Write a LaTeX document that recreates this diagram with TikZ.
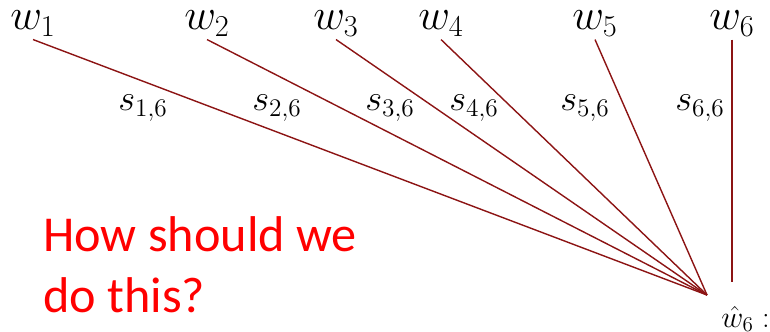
\documentclass[tikz,border=0pt]{standalone}
\usepackage{amsmath}
\usepackage{fontspec}
\newfontfamily\notefont{Carlito}
\usetikzlibrary{positioning}
\definecolor{edgered}{RGB}{140,20,20}
\definecolor{notered}{RGB}{255,0,0}
\tikzset{
  wlabel/.style={inner sep=1.5pt, anchor=base, font=\fontsize{24}{28}\selectfont},
  slabel/.style={inner sep=0pt, anchor=base, font=\fontsize{20}{24}\selectfont},
  hatlabel/.style={inner sep=0pt, anchor=base west, font=\fontsize{17}{21}\selectfont},
  simedge/.style={edgered, line width=0.8pt},
  notetext/.style={inner sep=0pt, anchor=north west, align=left, text=notered,
                   font=\notefont\fontsize{28.6}{34.7}\selectfont},
}

\begin{document}
\begin{tikzpicture}[x=0.02cm, y=-0.02cm]
  \useasboundingbox (0,0) rectangle (770,331);

  % Gewichte
  \node[wlabel] (w1) at (33, 30) {$w_1$};
  \node[wlabel] (w2) at (207, 30) {$w_2$};
  \node[wlabel] (w3) at (336, 30) {$w_3$};
  \node[wlabel] (w4) at (441, 30) {$w_4$};
  \node[wlabel] (w5) at (595, 30) {$w_5$};
  \node[wlabel] (w6) at (732, 30) {$w_6$};

  % Ziel
  \coordinate (hub) at (707, 295);
  \coordinate (w6end) at (732, 282);
  \node[hatlabel] (what6) at (721, 327) {$\hat{w}_6:$};

  % Kanten
  \draw[simedge] (w1.south) -- (hub);
  \draw[simedge] (w2.south) -- (hub);
  \draw[simedge] (w3.south) -- (hub);
  \draw[simedge] (w4.south) -- (hub);
  \draw[simedge] (w5.south) -- (hub);
  \draw[simedge] (w6.south) -- (w6end);

  % Ähnlichkeiten
  \node[slabel] (s1) at (143, 111) {$s_{1,6}$};
  \node[slabel] (s2) at (277, 111) {$s_{2,6}$};
  \node[slabel] (s3) at (390, 111) {$s_{3,6}$};
  \node[slabel] (s4) at (474, 111) {$s_{4,6}$};
  \node[slabel] (s5) at (585, 111) {$s_{5,6}$};
  \node[slabel] (s6) at (700, 111) {$s_{6,6}$};

  % Frage
  \node[notetext] (question) at (43, 216) {How should we\\do this?};
\end{tikzpicture}
\end{document}
